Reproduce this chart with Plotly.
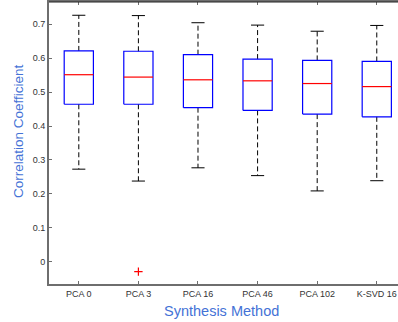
import plotly.graph_objects as go

categories = ["PCA 0", "PCA 3", "PCA 16", "PCA 46", "PCA 102", "K-SVD 16"]
upper_whisker = [0.726, 0.725, 0.704, 0.697, 0.679, 0.696]
q3 = [0.621, 0.620, 0.610, 0.597, 0.593, 0.590]
median = [0.551, 0.544, 0.536, 0.533, 0.525, 0.516]
q1 = [0.464, 0.464, 0.454, 0.446, 0.435, 0.427]
lower_whisker = [0.273, 0.238, 0.277, 0.254, 0.209, 0.239]
outlier_cat = [2]
outlier_val = [-0.0285]
y_ticks = [0, 0.1, 0.2, 0.3, 0.4, 0.5, 0.6, 0.7]
y_tick_labels = ["0", "0.1", "0.2", "0.3", "0.4", "0.5", "0.6", "0.7"]

BW = 0.245   # half box width
CW = 0.11    # half cap width

fig = go.Figure()

bx, by, mx, my, wx, wy, cx, cy = [], [], [], [], [], [], [], []
for i in range(len(categories)):
    p = i + 1
    bx += [p - BW, p + BW, p + BW, p - BW, p - BW, None]
    by += [q1[i], q1[i], q3[i], q3[i], q1[i], None]
    mx += [p - BW, p + BW, None]
    my += [median[i], median[i], None]
    wx += [p, p, None, p, p, None]
    wy += [q3[i], upper_whisker[i], None, q1[i], lower_whisker[i], None]
    cx += [p - CW, p + CW, None, p - CW, p + CW, None]
    cy += [upper_whisker[i], upper_whisker[i], None, lower_whisker[i], lower_whisker[i], None]

fig.add_trace(go.Scatter(x=wx, y=wy, mode="lines",
                         line=dict(color="black", width=1, dash="5px,3px"), hoverinfo="skip"))
fig.add_trace(go.Scatter(x=cx, y=cy, mode="lines",
                         line=dict(color="black", width=1), hoverinfo="skip"))
fig.add_trace(go.Scatter(x=bx, y=by, mode="lines",
                         line=dict(color="#0000ff", width=1.2), hoverinfo="skip"))
fig.add_trace(go.Scatter(x=mx, y=my, mode="lines",
                         line=dict(color="#ff0000", width=1.2), hoverinfo="skip"))
fig.add_trace(go.Scatter(x=outlier_cat, y=outlier_val, mode="markers",
                         marker=dict(symbol="cross-thin", size=6, color="#ff0000",
                                     line=dict(color="#ff0000", width=1.2))))

axis_gray = "#6e6e6e"
title_blue = "#4472d6"
fig.update_layout(
    width=398, height=322,
    margin=dict(l=49, r=0, t=2, b=38),
    paper_bgcolor="white", plot_bgcolor="white",
    showlegend=False,
    font=dict(family="Liberation Sans, Arial, sans-serif", size=9, color="#333333"),
    xaxis=dict(
        range=[0.5, 6.356], automargin=False,
        tickmode="array", tickvals=list(range(1, len(categories) + 1)), ticktext=categories,
        ticks="inside", ticklen=3, tickcolor=axis_gray, tickwidth=1,
        showline=True, linecolor=axis_gray, linewidth=2, mirror="ticks",
        showgrid=False, zeroline=False,
        tickfont=dict(size=9, color="#333333"),
    ),
    yaxis=dict(
        range=[-0.065, 0.765], automargin=False,
        tickmode="array", tickvals=y_ticks, ticktext=y_tick_labels,
        ticks="inside", ticklen=3, tickcolor=axis_gray, tickwidth=1,
        showline=True, linecolor=axis_gray, linewidth=2, mirror=False,
        showgrid=False, zeroline=False,
        tickfont=dict(size=9, color="#333333"),
    ),
)
fig.add_shape(type="line", xref="paper", yref="paper", x0=0, x1=1, y0=1, y1=1,
              line=dict(color="#222222", width=1.2))
fig.add_annotation(text="Synthesis Method", xref="paper", yref="paper",
                   x=0.493, y=-0.0957, xanchor="center", yanchor="middle", showarrow=False,
                   font=dict(size=14.5, color=title_blue))
fig.add_annotation(text="Correlation Coefficient", xref="paper", yref="paper",
                   x=-0.086, y=0.5426, xanchor="center", yanchor="middle", showarrow=False,
                   textangle=-90, font=dict(size=13.5, color=title_blue))

fig.write_html("out.html", config={"displayModeBar": False},
               post_script="document.body.style.margin='0';document.body.style.overflow='hidden';")
